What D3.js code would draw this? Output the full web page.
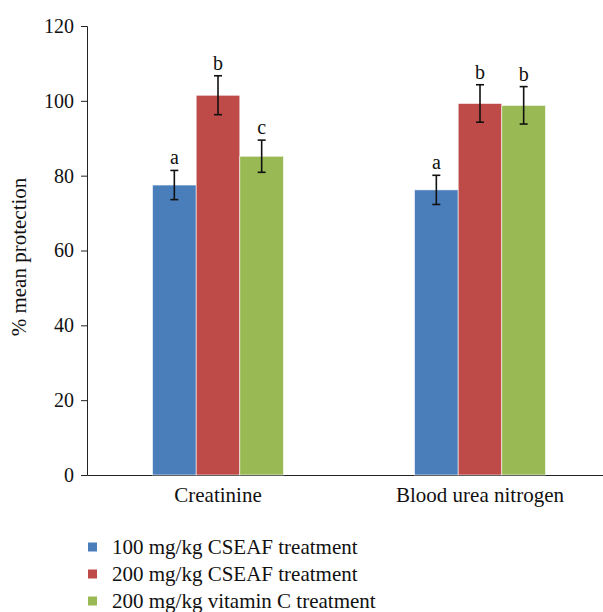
<!DOCTYPE html>
<html>
<head>
<meta charset="utf-8">
<script src="https://cdn.jsdelivr.net/npm/d3@7"></script>
<style>
  body { margin: 0; background: #fff; }
</style>
</head>
<body>
<div id="chart"></div>
<script>
// Data
let categories = ['Creatinine', 'Blood urea nitrogen']
let seriesNames = ['100 mg/kg CSEAF treatment', '200 mg/kg CSEAF treatment', '200 mg/kg vitamin C treatment']
let seriesColors = ['#4a7ebb', '#be4b48', '#98b954']
let means = [[77.5, 76.2], [101.5, 99.3], [85.2, 98.8]]
let errors = [[3.9, 3.9], [5.2, 5.0], [4.3, 5.0]]
let letters = [['a', 'a'], ['b', 'b'], ['c', 'b']]
let yTicks = [0, 20, 40, 60, 80, 100, 120]

let width = 603, height = 612
let m = {left: 87, top: 26, bottom: 137}
let serif = '"Liberation Serif", "DejaVu Serif", serif'

let svg = d3.select('#chart').append('svg')
  .attr('width', width)
  .attr('height', height)
  .style('font-family', serif)

let y = d3.scaleLinear().domain([0, 120]).range([height - m.bottom, m.top])
let x0 = d3.scaleBand().domain(categories).range([m.left, 611]).paddingInner(0).paddingOuter(0)
let x1 = d3.scaleBand().domain(d3.range(seriesNames.length)).range([0, x0.bandwidth() * 0.5])
let groupOffset = x0.bandwidth() * 0.25

// y axis
let yAxis = svg.append('g')
  .attr('transform', `translate(${m.left},0)`)
  .call(d3.axisLeft(y).tickValues(yTicks).tickSize(6).tickPadding(7))
  .attr('font-family', null)
  .attr('font-size', null)
yAxis.select('.domain').attr('stroke', '#222')
yAxis.selectAll('.tick line').attr('stroke', '#222')
yAxis.selectAll('.tick text')
  .style('font-family', serif)
  .style('font-size', '20px')
  .attr('fill', '#111')

// x axis
let xAxis = svg.append('g')
  .attr('transform', `translate(0,${y(0)})`)
  .call(d3.axisBottom(x0).tickSize(0).tickPadding(12))
  .attr('font-family', null)
  .attr('font-size', null)
xAxis.select('.domain').attr('stroke', '#222')
xAxis.selectAll('.tick text')
  .style('font-family', serif)
  .style('font-size', '21px')
  .attr('fill', '#111')

// bars
let rows = []
seriesNames.forEach((s, i) => {
  categories.forEach((c, j) => {
    rows.push({s: i, c: c, v: means[i][j], e: errors[i][j], l: letters[i][j]})
  })
})

let bx = (d) => x0(d.c) + groupOffset + x1(d.s)

svg.selectAll('rect.bar')
  .data(rows)
  .enter()
  .append('rect')
  .attr('class', 'bar')
  .attr('x', bx)
  .attr('y', (d) => y(d.v))
  .attr('width', x1.bandwidth())
  .attr('height', (d) => y(0) - y(d.v))
  .attr('fill', (d) => seriesColors[d.s])
  .attr('stroke', '#fff')
  .attr('stroke-width', 0.6)

// error bars
let eb = svg.selectAll('g.err')
  .data(rows)
  .enter()
  .append('g')
  .attr('class', 'err')
  .attr('stroke', '#111')
  .attr('stroke-width', 1.6)

let cx = (d) => bx(d) + x1.bandwidth() / 2
eb.append('line')
  .attr('x1', cx).attr('x2', cx)
  .attr('y1', (d) => y(d.v + d.e)).attr('y2', (d) => y(d.v - d.e))
eb.append('line')
  .attr('x1', (d) => cx(d) - 4).attr('x2', (d) => cx(d) + 4)
  .attr('y1', (d) => y(d.v + d.e)).attr('y2', (d) => y(d.v + d.e))
eb.append('line')
  .attr('x1', (d) => cx(d) - 4).attr('x2', (d) => cx(d) + 4)
  .attr('y1', (d) => y(d.v - d.e)).attr('y2', (d) => y(d.v - d.e))

// significance letters
svg.selectAll('text.letter')
  .data(rows)
  .enter()
  .append('text')
  .attr('class', 'letter')
  .attr('x', cx)
  .attr('y', (d) => y(d.v + d.e) - 6)
  .attr('text-anchor', 'middle')
  .attr('fill', '#111')
  .style('font-size', '20px')
  .text((d) => d.l)

// y label
svg.append('text')
  .attr('transform', `translate(26,257) rotate(-90)`)
  .attr('text-anchor', 'middle')
  .attr('fill', '#111')
  .style('font-size', '21px')
  .text('% mean protection')

// legend
let legend = svg.selectAll('g.legend')
  .data(seriesNames)
  .enter()
  .append('g')
  .attr('class', 'legend')
  .attr('transform', (d, i) => `translate(88,${547 + i * 27})`)

legend.append('rect')
  .attr('x', 0).attr('y', -4.5)
  .attr('width', 9).attr('height', 9)
  .attr('fill', (d, i) => seriesColors[i])

legend.append('text')
  .attr('x', 24)
  .attr('y', 6.5)
  .attr('fill', '#111')
  .style('font-size', '21px')
  .text((d) => d)
</script>
</body>
</html>
